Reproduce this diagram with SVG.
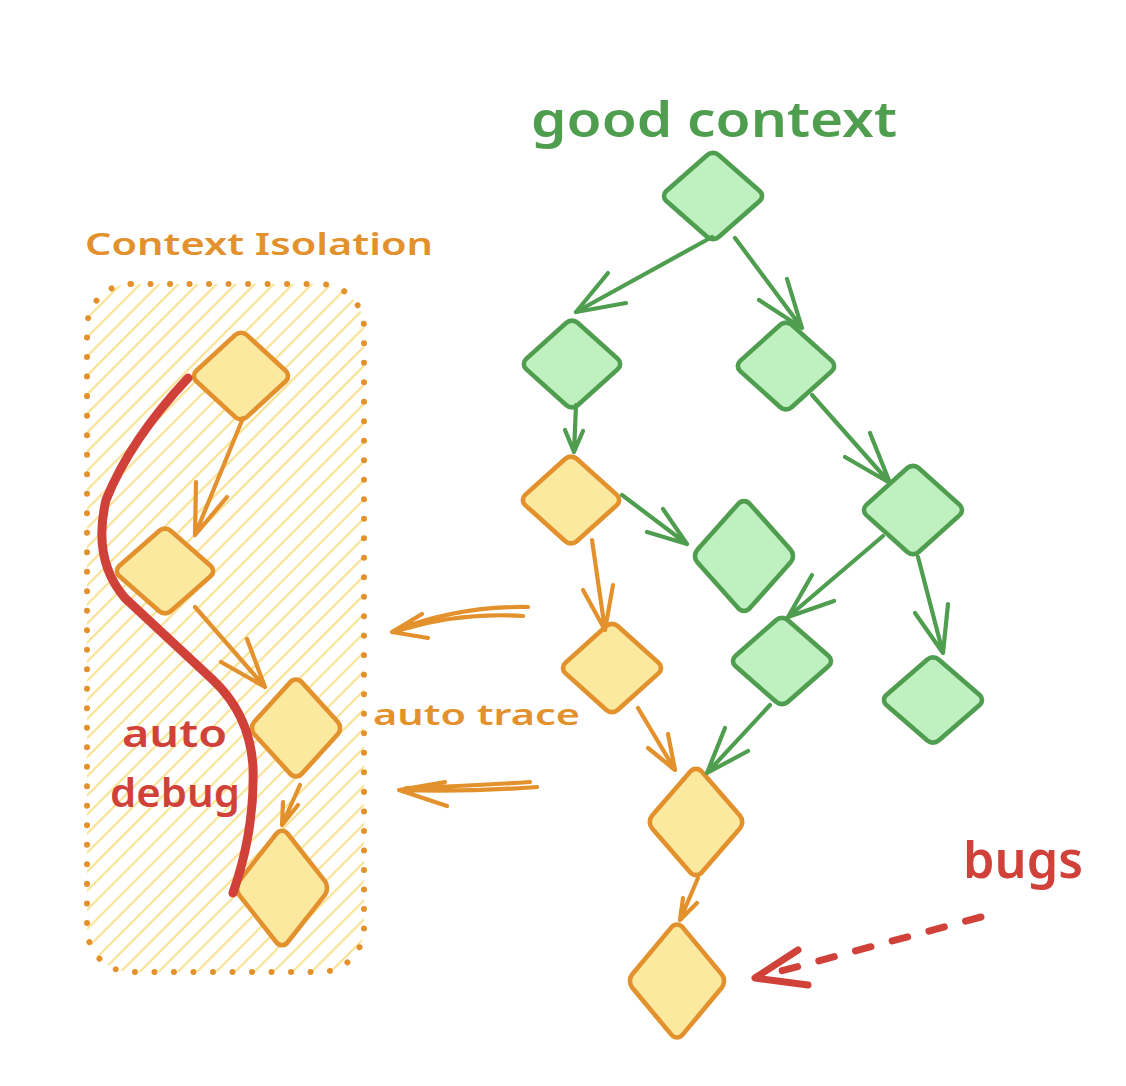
<svg xmlns="http://www.w3.org/2000/svg" width="1126" height="1086" viewBox="0 0 1126 1086">
<defs>
<style>
.g rect{fill:#bff0bf;stroke:#4f9d4f;stroke-width:4.6;vector-effect:non-scaling-stroke;stroke-linejoin:round}
.o rect{fill:#fbe9a0;stroke:#e3912d;stroke-width:4.6;vector-effect:non-scaling-stroke;stroke-linejoin:round}
.ga{fill:none;stroke:#4f9d4f;stroke-width:4.2;stroke-linecap:round;stroke-linejoin:round}
.oa{fill:none;stroke:#e3912d;stroke-width:4.2;stroke-linecap:round;stroke-linejoin:round}
.t{font-family:"Noto Sans","Liberation Sans",sans-serif;font-weight:600}
</style>
<pattern id="hatch" width="13.5" height="13.5" patternUnits="userSpaceOnUse" patternTransform="rotate(45)">
<line x1="3" y1="0" x2="3" y2="13.5" stroke="#f9e294" stroke-width="2.2"/>
</pattern>
</defs>
<rect width="1126" height="1086" fill="#ffffff"/>

<g id="isolation-box">
<rect x="87" y="284" width="277" height="688" rx="44" fill="url(#hatch)"/>
<rect x="87" y="284" width="277" height="688" rx="44" fill="none" stroke="#e3912d" stroke-width="6" stroke-linecap="round" stroke-dasharray="0.01 19.5"/>
</g>

<g id="labels" class="t">
<text x="531" y="137" font-size="48" fill="#4f9d4f" textLength="366" lengthAdjust="spacingAndGlyphs">good context</text>
<text x="85" y="255" font-size="31" fill="#e3912d" textLength="348" lengthAdjust="spacingAndGlyphs">Context Isolation</text>
<text x="373" y="725" font-size="29" fill="#e3912d" textLength="207" lengthAdjust="spacingAndGlyphs">auto trace</text>
<text x="122" y="747" font-size="38" fill="#d0413a" textLength="105" lengthAdjust="spacingAndGlyphs">auto</text>
<text x="110" y="807" font-size="40" fill="#d0413a" textLength="130" lengthAdjust="spacingAndGlyphs">debug</text>
<text x="963" y="878" font-size="50" fill="#d0413a" textLength="120" lengthAdjust="spacingAndGlyphs">bugs</text>
</g>

<g id="n1" class="g"><rect x="-37" y="-37" width="74" height="74" rx="8" transform="translate(713,196) scale(1,0.88) rotate(45)"/></g>
<g id="n2" class="g"><rect x="-36.4" y="-36.4" width="72.8" height="72.8" rx="8" transform="translate(572,364) scale(1,0.9) rotate(45)"/></g>
<g id="n3" class="g"><rect x="-36.4" y="-36.4" width="72.8" height="72.8" rx="8" transform="translate(786,366) scale(1,0.9) rotate(45)"/></g>
<g id="n4" class="o"><rect x="-36.4" y="-36.4" width="72.8" height="72.8" rx="8" transform="translate(571,500) scale(1,0.9) rotate(45)"/></g>
<g id="n5" class="g"><rect x="-37" y="-37" width="74" height="74" rx="8" transform="translate(744,556) scale(1,1.12) rotate(45)"/></g>
<g id="n6" class="g"><rect x="-37" y="-37" width="74" height="74" rx="8" transform="translate(913,510) scale(1,0.9) rotate(45)"/></g>
<g id="n7" class="g"><rect x="-37" y="-37" width="74" height="74" rx="8" transform="translate(782,661) scale(1,0.88) rotate(45)"/></g>
<g id="n8" class="g"><rect x="-37" y="-37" width="74" height="74" rx="8" transform="translate(933,700) scale(1,0.87) rotate(45)"/></g>
<g id="n9" class="o"><rect x="-37" y="-37" width="74" height="74" rx="8" transform="translate(612,668) scale(1,0.9) rotate(45)"/></g>
<g id="n10" class="o"><rect x="-35" y="-35" width="70" height="70" rx="8" transform="translate(696,822) scale(1,1.15) rotate(45)"/></g>
<g id="n11" class="o"><rect x="-35.6" y="-35.6" width="71.2" height="71.2" rx="8" transform="translate(677,981) scale(1,1.2) rotate(45)"/></g>
<g id="l1" class="o"><rect x="-35.6" y="-35.6" width="71.2" height="71.2" rx="8" transform="translate(241,376) scale(1,0.92) rotate(45)"/></g>
<g id="l2" class="o"><rect x="-36.4" y="-36.4" width="72.8" height="72.8" rx="8" transform="translate(165,571) scale(1,0.88) rotate(45)"/></g>
<g id="l3" class="o"><rect x="-33.5" y="-33.5" width="67" height="67" rx="8" transform="translate(296,728) scale(1,1.1) rotate(45)"/></g>
<g id="l4" class="o"><rect x="-34.2" y="-34.2" width="68.4" height="68.4" rx="8" transform="translate(282,888) scale(1,1.27) rotate(45)"/></g>

<g id="connectors">
<path class="ga" d="M712,237 L576,312" stroke-width="5.5"/>
<path class="ga" d="M608,273 L576,312 L626,303"/>
<path class="ga" d="M735,238 L802,328 M787,279 L802,328 L759,300"/>
<path class="ga" d="M576,405 L574,452 M565,430 L574,452 L583,431"/>
<path class="ga" d="M622,495 L687,544 M663,509 L687,544 L647,532"/>
<path class="ga" d="M812,395 L890,483 M870,433 L890,483 L845,457"/>
<path class="ga" d="M883,536 L788,617 M812,575 L788,617 L834,601"/>
<path class="ga" d="M918,557 L943,653 M915,613 L943,653 L948,604"/>
<path class="ga" d="M770,705 L707,773 M725,728 L707,773 L748,751"/>
<path class="oa" d="M592,540 L605,630 M583,590 L605,630 L613,585"/>
<path class="oa" d="M638,708 L675,770 M668,734 L675,770 L648,748"/>
<path class="oa" d="M698,878 L680,920 M683,898 L680,920 L697,903"/>
<path class="oa" d="M243,418 L195,535 M196,482 L195,535 L227,497"/>
<path class="oa" d="M195,607 L265,687 M247,639 L265,687 L221,662"/>
<path class="oa" d="M300,785 L282,825 M283,802 L282,825 L298,805"/>
<path class="oa" d="M528,607 Q455,606 392,632 M523,616 Q460,612 400,630 M422,614 L392,632 L428,638"/>
<path class="oa" d="M537,787 Q470,792 399,790 M530,782 Q470,786 406,788 M445,782 L399,790 L447,806"/>
<path d="M981,917 L770,974" fill="none" stroke="#d0413a" stroke-width="7" stroke-linecap="round" stroke-dasharray="16 22"/>
<path d="M798,950 L755,978 L808,985" fill="none" stroke="#d0413a" stroke-width="7" stroke-linecap="round" stroke-linejoin="round"/>
<path d="M188,378 Q130,440 106,500 Q92,560 125,598 Q170,640 213,680 Q250,715 253,767 Q255,830 233,893" fill="none" stroke="#d0413a" stroke-width="9" stroke-linecap="round"/>
</g>
</svg>
